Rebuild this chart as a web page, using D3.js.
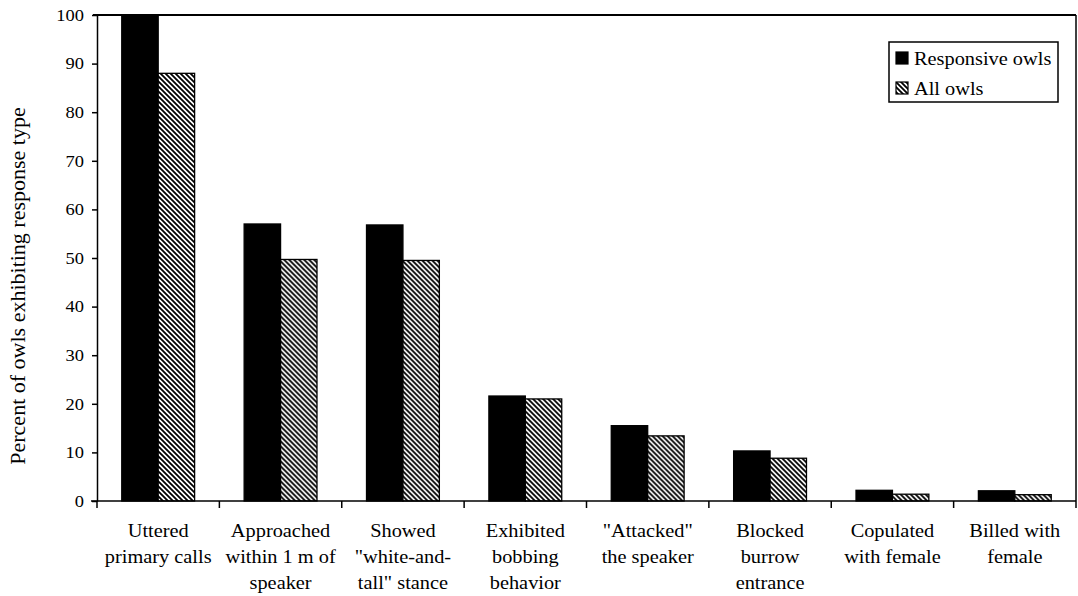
<!DOCTYPE html>
<html>
<head>
<meta charset="utf-8">
<script src="https://cdn.jsdelivr.net/npm/d3@7"></script>
<style>
  html, body { margin: 0; padding: 0; background: #fff; }
  svg { display: block; }
  svg text { font-family: "Liberation Serif", Tinos, "Times New Roman", Times, "DejaVu Serif", serif; fill: #000; }
</style>
</head>
<body>
<svg id="chart" width="1078" height="596"></svg>
<script>
const categories = [
  "Uttered\nprimary calls",
  "Approached\nwithin 1 m of\nspeaker",
  "Showed\n\"white-and-\ntall\" stance",
  "Exhibited\nbobbing\nbehavior",
  "\"Attacked\"\nthe speaker",
  "Blocked\nburrow\nentrance",
  "Copulated\nwith female",
  "Billed with\nfemale"
];
const seriesNames = ["Responsive owls", "All owls"];
const responsiveOwls = [100, 57, 56.8, 21.6, 15.5, 10.3, 2.2, 2.1];
const allOwls = [88, 49.7, 49.5, 21, 13.4, 8.8, 1.4, 1.3];
const yTicks = [0, 10, 20, 30, 40, 50, 60, 70, 80, 90, 100];
const yTitle = "Percent of owls exhibiting response type";

(function () {
const FONT = '"Liberation Serif", Tinos, "Times New Roman", Times, "DejaVu Serif", serif';
const svg = d3.select("#chart").attr("font-family", FONT);
const mLeft = 97, mRight = 1076, mTop = 15, mBottom = 501;
const SX = 1.1; // horizontal stretch of the scanned text

// hatch pattern
const defs = svg.append("defs");
const pat = defs.append("pattern")
  .attr("id", "hatch").attr("patternUnits", "userSpaceOnUse")
  .attr("width", 5).attr("height", 5);
pat.append("rect").attr("width", 5).attr("height", 5).attr("fill", "#fff");
pat.append("path")
  .attr("d", "M-1,-1 L6,6 M-1,4 L1,6 M4,-1 L6,1")
  .attr("stroke", "#000").attr("stroke-width", 1.8);

const x0 = d3.scaleBand().domain(categories).range([mLeft, mRight]).paddingInner(0).paddingOuter(0);
const x1 = d3.scaleBand().domain(seriesNames).range([0, x0.bandwidth()]).paddingInner(0).paddingOuter(0.68);
const y = d3.scaleLinear().domain([0, 100]).range([mBottom, mTop]);

const fills = { "Responsive owls": "#000", "All owls": "url(#hatch)" };
const data = categories.map((c, i) => ({ cat: c, vals: [
  { s: seriesNames[0], v: responsiveOwls[i] },
  { s: seriesNames[1], v: allOwls[i] }
]}));

// bars
const g = svg.append("g");
g.selectAll("g.cat").data(data).join("g")
  .attr("class", "cat")
  .attr("transform", d => `translate(${x0(d.cat)},0)`)
  .selectAll("rect").data(d => d.vals).join("rect")
  .attr("x", d => x1(d.s))
  .attr("y", d => y(d.v))
  .attr("width", x1.bandwidth())
  .attr("height", d => y(0) - y(d.v))
  .attr("fill", d => fills[d.s])
  .attr("stroke", "#000")
  .attr("stroke-width", 1.3);

// frame top/right
svg.append("line").attr("x1", mLeft - 4).attr("x2", mRight).attr("y1", mTop).attr("y2", mTop)
  .attr("stroke", "#000").attr("stroke-width", 2);
svg.append("line").attr("x1", mRight).attr("x2", mRight).attr("y1", mTop).attr("y2", mBottom)
  .attr("stroke", "#000").attr("stroke-width", 1.5);

// y axis
const yAxis = svg.append("g").attr("transform", `translate(${mLeft},0)`)
  .call(d3.axisLeft(y).tickValues(yTicks).tickSize(5).tickPadding(8).tickSizeOuter(0));
yAxis.attr("font-family", FONT).attr("font-size", 16.5);
yAxis.select(".domain").attr("stroke-width", 1.5);
yAxis.selectAll(".tick line").attr("stroke-width", 1.5);
yAxis.selectAll(".tick text").attr("x", 0).attr("transform", `translate(-13,0) scale(${SX + 0.02},1)`);

// x axis line
svg.append("line").attr("x1", mLeft - 6).attr("x2", mRight).attr("y1", mBottom).attr("y2", mBottom)
  .attr("stroke", "#000").attr("stroke-width", 1.5);
// category boundary ticks
const boundaries = categories.map(c => x0(c)).concat([mRight]);
svg.append("g").selectAll("line").data(boundaries).join("line")
  .attr("x1", d => d).attr("x2", d => d)
  .attr("y1", mBottom).attr("y2", mBottom + 7)
  .attr("stroke", "#000").attr("stroke-width", 1.5);

// category labels
const lbl = svg.append("g").selectAll("text").data(categories).join("text")
  .attr("text-anchor", "middle")
  .attr("font-size", 18.5)
  .attr("transform", d => `translate(${x0(d) + x0.bandwidth() / 2},537) scale(${SX},1)`);
lbl.selectAll("tspan").data(d => d.split("\n")).join("tspan")
  .attr("x", 0).attr("y", (d, i) => i * 26).text(d => d);

// y title
svg.append("text")
  .attr("transform", "translate(25,286) rotate(-90)")
  .attr("text-anchor", "middle")
  .attr("font-size", 22)
  .text(yTitle);

// legend
const leg = svg.append("g");
leg.append("rect").attr("x", 889).attr("y", 42).attr("width", 169).attr("height", 60)
  .attr("fill", "#fff").attr("stroke", "#000").attr("stroke-width", 1.5);
const li = leg.selectAll("g.li").data(seriesNames).join("g")
  .attr("class", "li")
  .attr("transform", (d, i) => `translate(896,${52 + i * 30})`);
li.append("rect").attr("width", 12).attr("height", 12)
  .attr("fill", d => fills[d]).attr("stroke", "#000").attr("stroke-width", 1.2);
li.append("text").attr("transform", `translate(18,12.5) scale(${SX},1)`)
  .attr("font-size", 18.5).text(d => d);
})();
</script>
</body>
</html>
